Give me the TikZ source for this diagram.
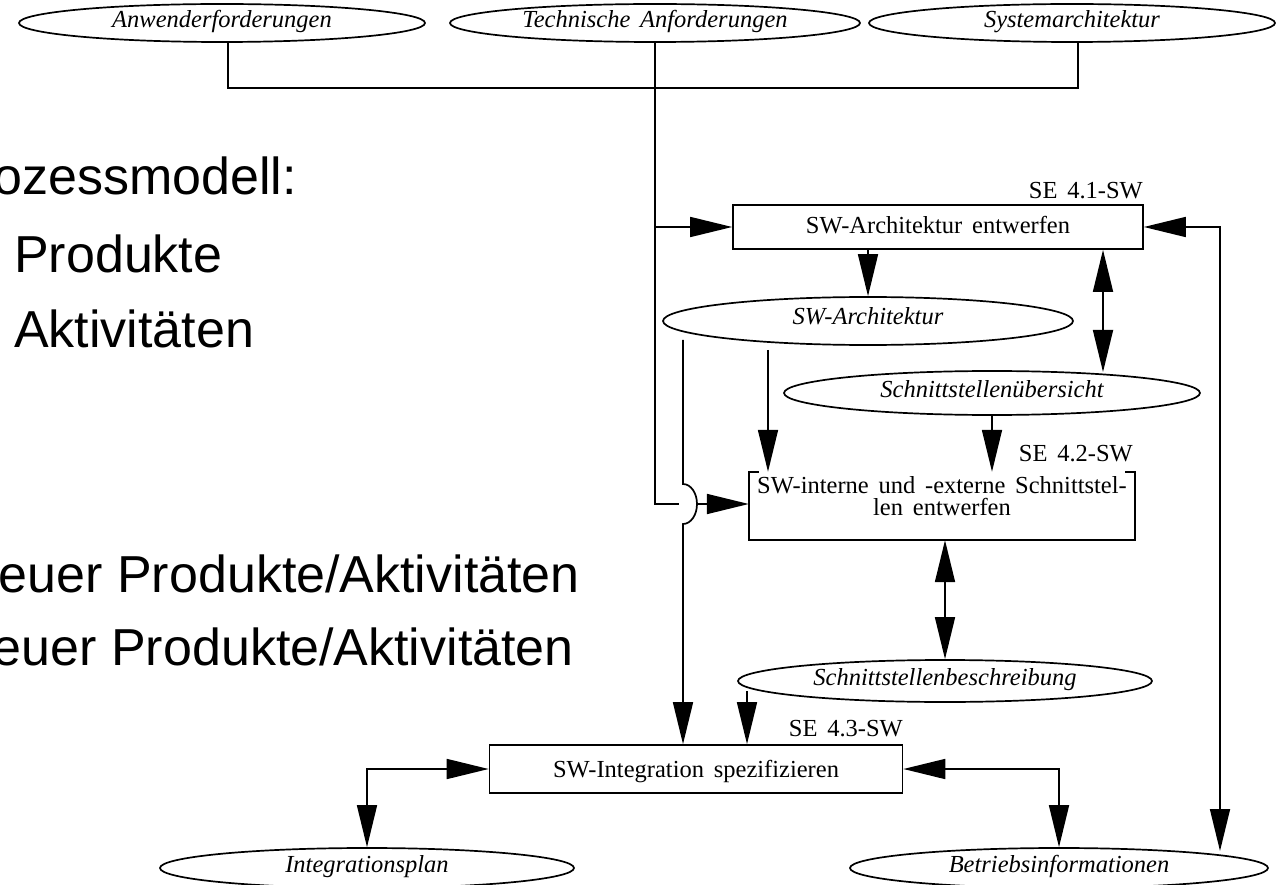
\documentclass[tikz,border=0pt]{standalone}
\usepackage{fontspec}
\setmainfont{Liberation Serif}[WordSpace=1.6]
\newfontfamily\arialf{Liberation Sans}
\usetikzlibrary{shapes.geometric,arrows.meta,calc}
\tikzset{
  conn/.style={line width=1.7pt},
  arr/.style={conn,-{Triangle[length=42pt,width=20pt]}},
  darr/.style={conn,{Triangle[length=42pt,width=20pt]}-{Triangle[length=42pt,width=20pt]}},
  prod/.style={draw,ellipse,line width=1.7pt,inner sep=0pt},
  ptext/.style={font=\fontsize{24.5}{26}\selectfont\itshape,inner sep=0pt,anchor=base},
  act/.style={draw,rectangle,line width=1.7pt,inner sep=0pt},
  actplain/.style={rectangle,inner sep=0pt},
  atext/.style={font=\fontsize{24.5}{22}\selectfont,inner sep=0pt},
  idtext/.style={font=\fontsize{24.5}{26}\selectfont,inner sep=0pt,anchor=base east},
  big/.style={font=\arialf\fontsize{52}{60}\selectfont,inner sep=0pt},
}
\begin{document}
\begin{tikzpicture}[x=1pt,y=-1pt]
\useasboundingbox (0,0) rectangle (1280,885);
\clip (0,0) rectangle (1280,885);

% big slide text
\node[big,anchor=base east] (t0) at (297,195) {ozessmodell:};
\node[big,anchor=base west] (t1) at (14,273) {Produkte};
\node[big,anchor=base west] (t2) at (14,348) {Aktivitäten};
\node[big,anchor=base east] (t3) at (580,592) {euer Produkte/Aktivitäten};
\node[big,anchor=base east] (t4) at (574,665) {euer Produkte/Aktivitäten};

% top products
\node[prod,minimum width=406pt,minimum height=38pt] (e1) at (222,23) {};
\node[ptext] (e1t) at (222,28) {Anwenderforderungen};
\node[prod,minimum width=410pt,minimum height=38pt] (e2) at (655,23) {};
\node[ptext] (e2t) at (655,28) {Technische Anforderungen};
\node[prod,minimum width=406pt,minimum height=38pt] (e3) at (1072,23) {};
\node[ptext] (e3t) at (1072,28) {Systemarchitektur};

% activity 1
\node[act,minimum width=410pt,minimum height=44pt] (b1) at (938,227) {};
\node[atext,anchor=base] (b1t) at (938,234) {SW-Architektur entwerfen};
\node[idtext] (id1) at (1143,199) {SE 4.1-SW};

\node[prod,minimum width=410pt,minimum height=48pt] (sa) at (868,321) {};
\node[ptext] (sat) at (868,325) {SW-Architektur};
\node[prod,minimum width=416pt,minimum height=44pt] (su) at (992,393) {};
\node[ptext] (sut) at (992,397) {Schnittstellenübersicht};

% activity 2
\node[actplain,minimum width=386pt,minimum height=68pt] (b2) at (942,506) {};
\node[atext,anchor=north,align=center] (b2t) at (942,476)
  {SW-interne und -externe Schnittstel-\\len entwerfen};
\draw[conn] ([xshift=10pt]b2.north west) -- (b2.north west) -- (b2.south west)
  -- (b2.south east) -- (b2.north east) -- ([xshift=-10pt]b2.north east);
\node[idtext] (id2) at (1133,461) {SE 4.2-SW};

\node[prod,minimum width=414pt,minimum height=42pt] (sb) at (945,681) {};
\node[ptext] (sbt) at (945,685) {Schnittstellenbeschreibung};

% activity 3
\node[act,minimum width=413pt,minimum height=48pt] (b3) at (696,769) {};
\node[atext,anchor=base] (b3t) at (696,777) {SW-Integration spezifizieren};
\node[idtext] (id3) at (903,736) {SE 4.3-SW};

\node[prod,minimum width=414pt,minimum height=40pt] (ip) at (367,868) {};
\node[ptext] (ipt) at (367,872) {Integrationsplan};
\node[prod,minimum width=418pt,minimum height=40pt] (bi) at (1059,868) {};
\node[ptext] (bit) at (1059,872) {Betriebsinformationen};

% coordinates for free ends
\coordinate (k1) at (228,88);
\coordinate (k3) at (1078,88);
\coordinate (s1) at (1103,372);
\coordinate (a2) at (768,350);
\coordinate (a3) at (747,691);
\coordinate (a4) at (683,340);
\coordinate (h1) at (683,484);
\coordinate (hl) at (679,504);
\coordinate (hr) at (697,504);
\coordinate (r1) at (1220,851);

% connectors
\draw[conn] (e1.south -| k1) -- (k1) -- (k3) -- (e3.south -| k3);
\draw[conn] (e2.south) |- (hl);
\draw[arr] (e2.south |- b1.west) -- (b1.west);
\draw[arr] (hr) -- (hr -| b2.west);
\draw[arr] (sa.north |- b1.south) -- (sa.north);
\draw[darr] (s1 |- b1.south) -- (s1);
\draw[arr] (a2) -- (a2 |- b2.north);
\draw[arr] (su.south) -- (su.south |- b2.north);
\draw[darr] (sb.north |- b2.south) -- (sb.north);
\draw[arr] (a3) -- (a3 |- b3.north);
\draw[arr] (a4) -- (h1) arc[start angle=90,end angle=-90,x radius=14pt,y radius=20pt] -- (a4 |- b3.north);
\draw[darr] (b3.west) -| (ip.north);
\draw[darr] (b3.east) -| (bi.north);
\draw[darr] (b1.east) -| (r1);
\end{tikzpicture}
\end{document}
